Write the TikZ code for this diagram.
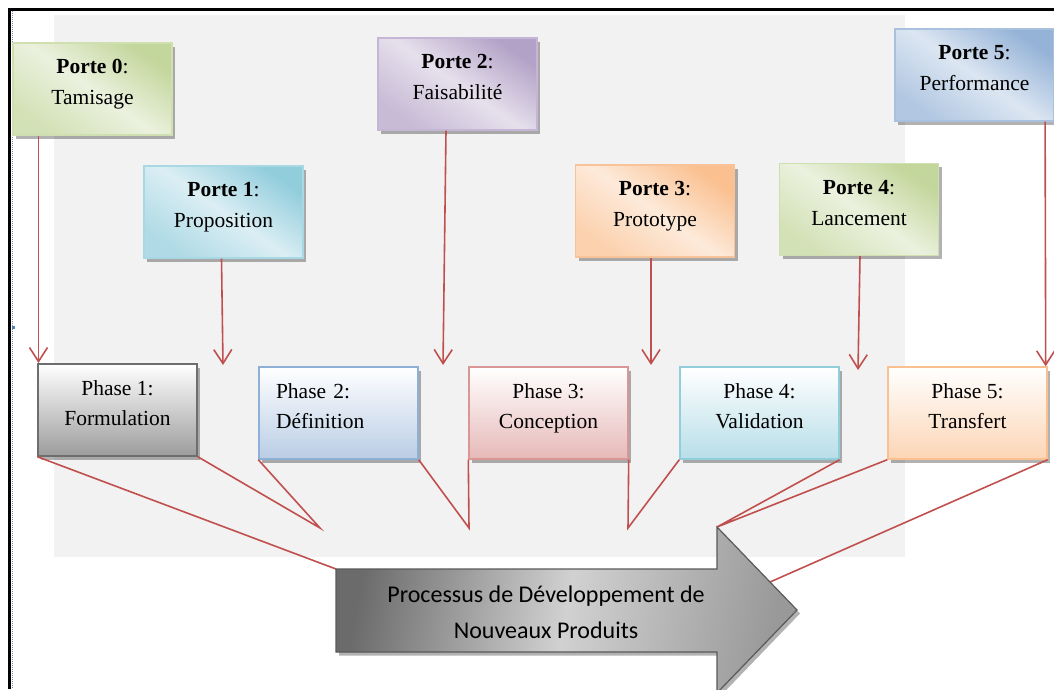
\documentclass[tikz,border=0pt]{standalone}
\usepackage{fontspec}
\setmainfont{Liberation Serif}
\newfontfamily\calib{Carlito}
\usetikzlibrary{shadows,arrows.meta,calc}
\definecolor{redl}{HTML}{C0504D}
\definecolor{bggray}{HTML}{F2F2F2}
\definecolor{grD}{HTML}{C3D69B}\definecolor{grL}{HTML}{EBF1DE}\definecolor{grB}{HTML}{D0DFB0}
\definecolor{aqD}{HTML}{92CDDC}\definecolor{aqL}{HTML}{DBEEF4}\definecolor{aqB}{HTML}{A8D8E4}
\definecolor{puD}{HTML}{B3A2C7}\definecolor{puL}{HTML}{E6E0EC}\definecolor{puB}{HTML}{C4B6D4}
\definecolor{orD}{HTML}{FAC090}\definecolor{orL}{HTML}{FDEADA}\definecolor{orB}{HTML}{F9C39A}
\definecolor{blD}{HTML}{95B3D7}\definecolor{blL}{HTML}{DCE6F2}\definecolor{blB}{HTML}{A9C1DF}
\definecolor{p1F}{HTML}{9C9C9C}\definecolor{p1B}{HTML}{6E6E6E}
\definecolor{p2F}{HTML}{B9CDE5}\definecolor{p2B}{HTML}{8EAFD6}
\definecolor{p3F}{HTML}{E6B9B8}\definecolor{p3B}{HTML}{D99694}
\definecolor{p4F}{HTML}{B7DEE8}\definecolor{p4B}{HTML}{92CDDC}
\definecolor{p5F}{HTML}{FCD5B5}\definecolor{p5B}{HTML}{FAC090}
\definecolor{dotb}{HTML}{7A8CB0}
\definecolor{markb}{HTML}{4F81BD}
\newcommand{\twol}[2]{\rule{0pt}{20pt}#1\\#2\rule[-20pt]{0pt}{20pt}}
\begin{document}
\begin{tikzpicture}[x=1pt,y=-1pt,
  gatebox/.style n args={3}{draw=#1, line width=1.2pt, shading=axis,
     top color=#2, bottom color=#2!60!#3, middle color=#3, shading angle=-35,
     minimum width=159pt, minimum height=92pt, inner sep=0pt, align=center,
     font=\fontsize{21.5}{31}\selectfont,
     drop shadow={shadow xshift=3pt, shadow yshift=-3.5pt, fill=black, opacity=0.3}},
  phasebox/.style 2 args={draw=#1, line width=1.4pt, top color=white, bottom color=#2,
     minimum width=159pt, minimum height=92pt, inner sep=0pt, align=center,
     font=\fontsize{21.5}{30}\selectfont,
     drop shadow={shadow xshift=3pt, shadow yshift=-3.5pt, fill=black, opacity=0.3}},
  gatearrow/.style={draw=redl, line width=1.6pt, -{Straight Barb[length=14pt,width=18pt]}},
  link/.style={draw=redl, line width=1.6pt}]
\useasboundingbox (0,0) rectangle (1054,689);
% background
\fill[bggray] (54,15) rectangle (905,557);
\draw[black, line width=3pt] (8,9.5) -- (1054,9.5);
\draw[black, line width=3pt] (9.5,8) -- (9.5,689);
\draw[dotb, line width=1pt, densely dotted] (12,11) -- (12,689);
\fill[markb] (12,325.5) rectangle (15,328.5);
% gates
\node[gatebox={grB}{grD}{grL}] (g0) at (92.5,89) {\twol{\textbf{Porte 0}:}{Tamisage}};
\node[gatebox={aqB}{aqD}{aqL}] (g1) at (223.5,212) {\twol{\textbf{Porte 1}:}{Proposition}};
\node[gatebox={puB}{puD}{puL}] (g2) at (457.5,84) {\twol{\textbf{Porte 2}:}{Faisabilité}};
\node[gatebox={orB}{orD}{orL}] (g3) at (655,211) {\twol{\textbf{Porte 3}:}{Prototype}};
\node[gatebox={grB}{grD}{grL}] (g4) at (859,209.5) {\twol{\textbf{Porte 4}:}{Lancement}};
\node[gatebox={blB}{blD}{blL}] (g5) at (974.5,75) {\twol{\textbf{Porte 5}:}{Performance}};
% phases
\node[phasebox={p1B}{p1F}] (p1) at (117.5,410) {\twol{Phase 1:}{Formulation}};
\node[phasebox={p2B}{p2F}, text width=125pt, align=left] (p2) at (338.5,413) {\twol{Phase 2:}{Définition}};
\node[phasebox={p3B}{p3F}] (p3) at (548.5,413) {\twol{Phase 3:}{Conception}};
\node[phasebox={p4B}{p4F}] (p4) at (759.5,413) {\twol{Phase 4:}{Validation}};
\node[phasebox={p5B}{p5F}] (p5) at (967.5,413) {\twol{Phase 5:}{Transfert}};
% gate arrows
\coordinate (s0) at (38.5,136);
\coordinate (t0) at (38.5,363);
\coordinate (t1) at (223,365);
\coordinate (t2) at (443,365);
\coordinate (t3) at (651,365);
\coordinate (t4) at (858,370);
\draw[gatearrow] (s0) -- (t0);
\draw[gatearrow] ([xshift=-2pt]g1.south) -- (t1);
\draw[gatearrow] ([xshift=-11.5pt]g2.south) -- (t2);
\draw[gatearrow] ([xshift=-4pt]g3.south) -- (t3);
\draw[gatearrow] ([xshift=1pt]g4.south) -- (t4);
\draw[gatearrow] ([xshift=-9.5pt]g5.south east) -- ([xshift=-2pt]p5.north east);
% convergence points and big arrow
\coordinate (c1) at (320,528);
\coordinate (c2) at (469,528);
\coordinate (c3) at (628,528);
\coordinate (atl) at (336,569);
\coordinate (ahead) at (717,527);
\coordinate (aedge) at (770,582);
\draw[link] (p1.south west) -- (atl);
\draw[link] (p1.south east) -- (c1) -- (p2.south west);
\draw[link] (p2.south east) -- (c2) -- (p3.south west);
\draw[link] (p3.south east) -- (c3) -- (p4.south west);
\draw[link] (p4.south east) -- (ahead) -- (p5.south west);
\draw[link] (p5.south east) -- (aedge);
\path[draw=black!65, line width=1.2pt, left color=black!58, right color=black!40, middle color=black!18,
  shading angle=80,
  drop shadow={shadow xshift=3pt, shadow yshift=-3.5pt, fill=black, opacity=0.3}]
  (atl) -- (717,569) -- (ahead) -- (797,610) -- (717,693) -- (717,652) -- (336,652) -- cycle;
\node[font=\calib\fontsize{24}{36}\selectfont, align=center, inner sep=0pt] (pdnp) at (546,620)
  {\twol{Processus de Développement de}{Nouveaux Produits}};
\end{tikzpicture}
\end{document}
